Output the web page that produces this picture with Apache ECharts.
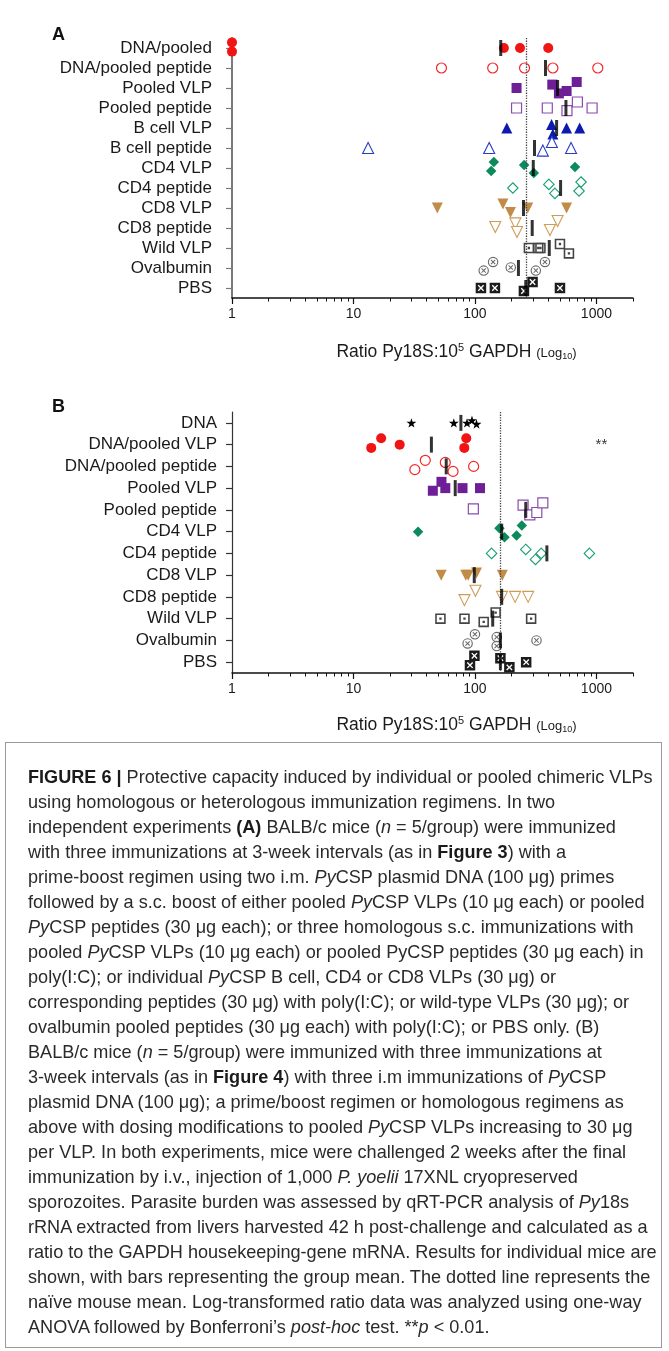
<!DOCTYPE html>
<html><head><meta charset="utf-8">
<script src="https://cdn.jsdelivr.net/npm/echarts@6/dist/echarts.min.js"></script>
<style>
html,body{margin:0;padding:0;background:#fff;}
#wrap{position:relative;width:669px;height:1351px;overflow:hidden;background:#fff;}
#chart{position:absolute;left:0;top:0;width:669px;height:745px;}
#frame{position:absolute;left:5px;top:742px;width:657px;height:606px;border:1px solid #9a9a9a;box-sizing:border-box;}
#cap{position:absolute;left:28px;top:765px;font-family:"Liberation Sans",Arial,sans-serif;font-size:18.1px;line-height:25px;color:#2a2a2a;white-space:nowrap;}
#cap b{font-weight:bold;color:#1a1a1a;}
</style></head>
<body><div id="wrap"><div id="chart"></div><div id="frame"></div>
<div id="cap">
<div><b>FIGURE 6 |</b> Protective capacity induced by individual or pooled chimeric VLPs</div>
<div>using homologous or heterologous immunization regimens. In two</div>
<div>independent experiments <b>(A)</b> BALB/c mice (<i>n</i> = 5/group) were immunized</div>
<div>with three immunizations at 3-week intervals (as in <b>Figure 3</b>) with a</div>
<div>prime-boost regimen using two i.m. <i>Py</i>CSP plasmid DNA (100 μg) primes</div>
<div>followed by a s.c. boost of either pooled <i>Py</i>CSP VLPs (10 μg each) or pooled</div>
<div><i>Py</i>CSP peptides (30 μg each); or three homologous s.c. immunizations with</div>
<div>pooled <i>Py</i>CSP VLPs (10 μg each) or pooled PyCSP peptides (30 μg each) in</div>
<div>poly(I:C); or individual <i>Py</i>CSP B cell, CD4 or CD8 VLPs (30 μg) or</div>
<div>corresponding peptides (30 μg) with poly(I:C); or wild-type VLPs (30 μg); or</div>
<div>ovalbumin pooled peptides (30 μg each) with poly(I:C); or PBS only. (B)</div>
<div>BALB/c mice (<i>n</i> = 5/group) were immunized with three immunizations at</div>
<div>3-week intervals (as in <b>Figure 4</b>) with three i.m immunizations of <i>Py</i>CSP</div>
<div>plasmid DNA (100 μg); a prime/boost regimen or homologous regimens as</div>
<div>above with dosing modifications to pooled <i>Py</i>CSP VLPs increasing to 30 μg</div>
<div>per VLP. In both experiments, mice were challenged 2 weeks after the final</div>
<div>immunization by i.v., injection of 1,000 <i>P. yoelii</i> 17XNL cryopreserved</div>
<div>sporozoites. Parasite burden was assessed by qRT-PCR analysis of <i>Py</i>18s</div>
<div>rRNA extracted from livers harvested 42 h post-challenge and calculated as a</div>
<div>ratio to the GAPDH housekeeping-gene mRNA. Results for individual mice are</div>
<div>shown, with bars representing the group mean. The dotted line represents the</div>
<div>naïve mouse mean. Log-transformed ratio data was analyzed using one-way</div>
<div>ANOVA followed by Bonferroni’s <i>post-hoc</i> test. **<i>p</i> &lt; 0.01.</div>
</div>
</div>
<script>
// ---------------- DATA ----------------
const catsA = ['DNA/pooled','DNA/pooled peptide','Pooled VLP','Pooled peptide','B cell VLP','B cell peptide','CD4 VLP','CD4 peptide','CD8 VLP','CD8 peptide','Wild VLP','Ovalbumin','PBS'];
const valuesA = [
  [1, 1, 173, 235, 401],
  [53, 140, 256, 438, 1026],
  [220, 433, 491, 568, 688],
  [220, 394, 572, 697, 921],
  [183, 427, 438, 568, 728],
  [13.2, 131, 362, 430, 618],
  [143, 136, 254, 305, 666],
  [205, 406, 455, 719, 747],
  [49, 170, 196, 272, 568],
  [147, 215, 222, 414, 479],
  [278, 332, 346, 501, 594],
  [118, 141, 197, 317, 377],
  [112, 146, 253, 298, 501]
];
// vertical scatter of overlapping points, in fractions of a row
const jitterA = [
  [-0.28, 0.18, 0, 0, 0],
  [0, 0, 0, 0, 0],
  [0, -0.17, 0.27, 0.15, -0.3],
  [0, 0, 0.13, -0.3, 0],
  [0, -0.17, 0.3, 0, 0],
  [0, 0, 0.13, -0.3, 0],
  [-0.3, 0.15, -0.15, 0.25, -0.05],
  [0, -0.18, 0.27, 0.15, -0.3],
  [0, -0.2, 0.23, 0, 0],
  [-0.05, -0.23, 0.2, 0.1, -0.35],
  [0, 0, 0, -0.2, 0.27],
  [0.13, -0.3, -0.03, 0.13, -0.3],
  [0, 0, 0.15, -0.3, 0]
];
const meansA = [163, 381, 479, 561, 470, 309, 302, 507, 251, 296, 409, 228, 262];
const naiveA = 265;

const catsB = ['DNA','DNA/pooled VLP','DNA/pooled peptide','Pooled VLP','Pooled peptide','CD4 VLP','CD4 peptide','CD8 VLP','CD8 peptide','Wild VLP','Ovalbumin','PBS'];
const valuesB = [
  [30, 67, 86, 94.5, 103],
  [14, 16.9, 24, 81.7, 84.8],
  [32, 39, 57, 66, 97.5],
  [45, 53, 57, 79, 110],
  [97, 249, 283, 323, 362],
  [34, 159, 175, 220, 243],
  [137, 262, 315, 351, 875],
  [52.7, 84, 88, 103, 168],
  [82, 101, 167, 214, 274],
  [52, 82, 118, 148, 290],
  [87, 100, 151, 151, 321],
  [91, 99, 162, 192, 264]
];
const jitterB = [
  [0, 0, 0, -0.12, 0.05],
  [0.15, -0.29, 0, 0.15, -0.29],
  [0.15, -0.28, -0.18, 0.23, 0],
  [0.12, -0.29, 0, 0, 0],
  [-0.05, -0.22, 0.23, 0.12, -0.32],
  [0, -0.15, 0.26, 0.18, -0.28],
  [0, -0.18, 0.28, 0, 0],
  [0, 0, 0, -0.1, 0],
  [0.15, -0.28, 0, 0, 0],
  [0, 0, 0.15, -0.28, 0],
  [0.14, -0.28, -0.15, 0.26, 0],
  [0.14, -0.29, -0.18, 0.24, 0]
];
const meansB = [76.6, 43.8, 58, 68.8, 262, 166, 391, 98.7, 166, 140, 162, 162];
const naiveB = 162;
const signifB = [{value: 1100, category: 'DNA/pooled VLP', text: '**'}];

const majorTicks = [1, 10, 100, 1000];
const majorTickLabels = ['1', '10', '100', '1000'];
const minorTicks = [2,3,4,5,6,7,8,9,20,30,40,50,60,70,80,90,200,300,400,500,600,700,800,900,2000];
const axisMin = 1, axisMax = 2000;

// ---------------- STYLES ----------------
const FONT = '"Liberation Sans", Arial, sans-serif';
const STAR = 'path://M50,0 L61,35 L98,35 L68,57 L79,91 L50,70 L21,91 L32,57 L2,35 L39,35 Z';
const WILD = 'path://M0,0 H10 V10 H0 Z M1.5,1.5 V8.5 H8.5 V1.5 Z M3.9,3.9 H6.1 V6.1 H3.9 Z';
const OVAL = 'path://M5,0 A5,5 0 1,1 5,10 A5,5 0 1,1 5,0 Z M5,1.1 A3.9,3.9 0 1,0 5,8.9 A3.9,3.9 0 1,0 5,1.1 Z M2.6,3.3 L3.3,2.6 L5,4.3 L6.7,2.6 L7.4,3.3 L5.7,5 L7.4,6.7 L6.7,7.4 L5,5.7 L3.3,7.4 L2.6,6.7 L4.3,5 Z';
const PBS = 'path://M0,0 H10 V10 H0 Z M2,2.9 L4.1,5 L2,7.1 L2.9,8 L5,5.9 L7.1,8 L8,7.1 L5.9,5 L8,2.9 L7.1,2 L5,4.1 L2.9,2 Z';
const ST = {
  star:    {symbol: STAR, size: 10, item: {color: '#000'}},
  redFill: {symbol: 'circle', size: 10, item: {color: '#f01414'}},
  redOpen: {symbol: 'circle', size: 10, item: {color: '#fff', borderColor: '#f02a2a', borderWidth: 1.2}},
  purFill: {symbol: 'rect', size: 10, item: {color: '#6e1f98'}},
  purOpen: {symbol: 'rect', size: 10, item: {color: '#fff', borderColor: '#8a4cb0', borderWidth: 1.2}},
  bluFill: {symbol: 'triangle', size: 11, item: {color: '#0c1ab0'}},
  bluOpen: {symbol: 'triangle', size: 11, item: {color: '#fff', borderColor: '#2a3cc4', borderWidth: 1.1}},
  grnFill: {symbol: 'diamond', size: 10.5, item: {color: '#0b8a5c'}},
  grnOpen: {symbol: 'diamond', size: 10.5, item: {color: '#fff', borderColor: '#19a070', borderWidth: 1.1}},
  tanFill: {symbol: 'triangle', rotate: 180, size: 11, item: {color: '#c08c48'}},
  tanOpen: {symbol: 'triangle', rotate: 180, size: 11, item: {color: '#fff', borderColor: '#cf9b58', borderWidth: 1.1}},
  wild:    {symbol: WILD, size: 10.5, item: {color: '#444'}},
  oval:    {symbol: OVAL, size: 10.5, item: {color: '#6a6a6a'}},
  pbs:     {symbol: PBS, size: 10.5, item: {color: '#1c1c1c'}}
};
const rowStyleA = ['redFill','redOpen','purFill','purOpen','bluFill','bluOpen','grnFill','grnOpen','tanFill','tanOpen','wild','oval','pbs'];
const rowStyleB = ['star','redFill','redOpen','purFill','purOpen','grnFill','grnOpen','tanFill','tanOpen','wild','oval','pbs'];

const grids = [
  {left: 232, top: 38, width: 401, height: 260},
  {left: 232, top: 412, width: 401, height: 261}
];

function xAxesFor(gi, nameGap) {
  return [
    {
      gridIndex: gi, type: 'log', logBase: 10, min: axisMin, max: axisMax, position: 'bottom',
      axisLine: {show: true, lineStyle: {color: '#111', width: 1.5}},
      axisTick: {show: true, length: 6, customValues: majorTicks, lineStyle: {color: '#111', width: 1.2}},
      axisLabel: {customValues: majorTicks, fontSize: 14, color: '#1a1a1a', fontFamily: FONT, margin: 9,
        formatter: v => majorTickLabels[majorTicks.indexOf(Math.round(v))] || ''},
      splitLine: {show: false},
      name: '{n|Ratio Py18S:10}{sup|5}{n| GAPDH }{s|(Log}{sub|10}{s|)}',
      nameLocation: 'middle', nameGap: nameGap,
      nameTextStyle: {
        padding: [0, 0, 0, 48],
        rich: {
          n: {fontSize: 17.5, fontFamily: FONT, color: '#1a1a1a', lineHeight: 22, verticalAlign: 'middle'},
          sup: {fontSize: 11, fontFamily: FONT, color: '#1a1a1a', lineHeight: 22, verticalAlign: 'top', padding: [1, 0, 0, 0]},
          s: {fontSize: 13, fontFamily: FONT, color: '#1a1a1a', lineHeight: 22, verticalAlign: 'middle', padding: [3, 0, 0, 0]},
          sub: {fontSize: 9, fontFamily: FONT, color: '#1a1a1a', lineHeight: 22, verticalAlign: 'bottom', padding: [0, 0, 2, 0]}
        }
      }
    },
    {
      gridIndex: gi, type: 'log', logBase: 10, min: axisMin, max: axisMax, position: 'bottom',
      axisLine: {show: false},
      axisTick: {show: true, length: 3.5, customValues: minorTicks, lineStyle: {color: '#111', width: 1}},
      axisLabel: {show: false}, splitLine: {show: false}
    }
  ];
}

function yAxisFor(gi, cats, lineColor, lineWidth, margin) {
  return {
    gridIndex: gi, type: 'category', data: cats, inverse: true,
    axisLine: {show: true, lineStyle: {color: lineColor, width: lineWidth}},
    axisTick: {show: true, alignWithLabel: true, interval: 0, length: 6, lineStyle: {color: lineColor, width: 1.2}},
    axisLabel: {interval: 0, fontSize: 17, color: '#1a1a1a', fontFamily: FONT, margin: margin},
    splitLine: {show: false}
  };
}

function panelSeries(gi, cats, vals, jit, means, naive, styles) {
  const band = grids[gi].height / cats.length;
  const out = [];
  cats.forEach((c, i) => {
    const st = ST[styles[i]];
    out.push({
      type: 'scatter', xAxisIndex: gi * 2, yAxisIndex: gi, silent: true, z: 3,
      symbol: st.symbol, symbolSize: st.size, symbolRotate: st.rotate || 0, symbolKeepAspect: true,
      itemStyle: Object.assign({opacity: 1}, st.item),
      data: vals[i].map((v, k) => ({value: [v, c], symbolOffset: [0, jit[i][k] * band]}))
    });
  });
  out.push({
    type: 'scatter', xAxisIndex: gi * 2, yAxisIndex: gi, silent: true, z: 5,
    symbol: 'rect', symbolSize: [3, 16], itemStyle: {color: '#000'},
    data: means.map((m, i) => [m, cats[i]]),
    markLine: {
      silent: true, symbol: 'none', label: {show: false},
      lineStyle: {type: 'dotted', color: '#444', width: 1.3},
      data: [{xAxis: naive}]
    }
  });
  return out;
}

const series = []
  .concat(panelSeries(0, catsA, valuesA, jitterA, meansA, naiveA, rowStyleA))
  .concat(panelSeries(1, catsB, valuesB, jitterB, meansB, naiveB, rowStyleB));
series.push({
  type: 'scatter', xAxisIndex: 2, yAxisIndex: 1, silent: true, symbolSize: 0, z: 6,
  data: signifB.map(s => ({value: [s.value, s.category], name: s.text})),
  label: {show: true, position: 'inside', formatter: p => p.name, fontSize: 15, color: '#000', fontFamily: FONT}
});

const chart = echarts.init(document.getElementById('chart'), null, {renderer: 'canvas'});
chart.setOption({
  animation: false,
  backgroundColor: '#fff',
  grid: grids,
  xAxis: [].concat(xAxesFor(0, 43), xAxesFor(1, 41)),
  yAxis: [yAxisFor(0, catsA, '#7a7a7a', 2, 20), yAxisFor(1, catsB, '#333', 1.2, 15)],
  graphic: [
    {type: 'text', left: 52, top: 26, style: {text: 'A', font: 'bold 18px "Liberation Sans", Arial, sans-serif', fill: '#111'}},
    {type: 'text', left: 52, top: 398, style: {text: 'B', font: 'bold 18px "Liberation Sans", Arial, sans-serif', fill: '#111'}}
  ],
  series: series
});
</script>
</body></html>
